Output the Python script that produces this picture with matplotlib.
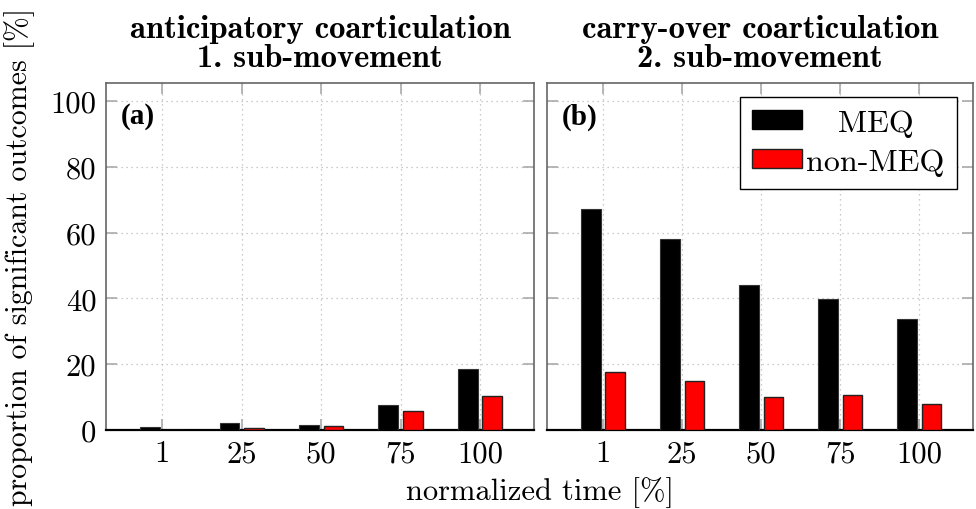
import numpy as np
import matplotlib.pyplot as plt
from matplotlib.patches import Patch

# values
time_labels = ['1', '25', '50', '75', '100']
meq_antic = [0.8, 2.0, 1.6, 7.5, 18.4]
nonmeq_antic = [0.0, 0.7, 1.2, 5.8, 10.4]
meq_carry = [67.3, 58.1, 44.2, 39.7, 33.8]
nonmeq_carry = [17.5, 14.9, 9.9, 10.7, 7.8]

plt.rcParams['font.family'] = 'cmr10'
plt.rcParams['mathtext.fontset'] = 'cm'
plt.rcParams['axes.unicode_minus'] = False

fig = plt.figure(figsize=(9.76, 5.10), dpi=100)
ax1 = fig.add_axes([106 / 976, 79 / 510, 428 / 976, 347 / 510])
ax2 = fig.add_axes([547 / 976, 79 / 510, 426 / 976, 347 / 510])

x = np.arange(len(time_labels))
w = 0.25
fs = 22

panels = [
    (ax1, meq_antic, nonmeq_antic, 'anticipatory coarticulation\n1. sub-movement', '(a)'),
    (ax2, meq_carry, nonmeq_carry, 'carry-over coarticulation\n2. sub-movement', '(b)'),
]

for ax, meq, nonmeq, title, tag in panels:
    ax.bar(x - 0.155, meq, w, color='black', edgecolor='#333333', linewidth=0.8, zorder=3)
    ax.bar(x + 0.155, nonmeq, w, color='#ff0000', edgecolor='#222222', linewidth=1.0, zorder=3)
    ax.set_xlim(-0.71, 4.68)
    ax.set_ylim(0, 105.5)
    ax.set_xticks(x)
    ax.set_xticklabels(time_labels, fontsize=fs)
    ax.set_yticks([0, 20, 40, 60, 80, 100])
    ax.grid(True, linestyle=(0, (1, 3)), color='#bbbbbb', linewidth=0.9, zorder=0)
    ax.tick_params(axis='both', direction='in', length=8, color='#aaaaaa', width=1.2,
                   top=True, right=True, labelsize=fs, pad=7)
    for s in ['left', 'right', 'top']:
        ax.spines[s].set_color('#666666')
        ax.spines[s].set_linewidth(1.2)
    ax.spines['bottom'].set_color('black')
    ax.spines['bottom'].set_linewidth(1.6)
    ax.set_title(title, fontsize=23.5, family='cmb10', pad=12, linespacing=1.0)
    ax.text(0.035, 0.905, tag, transform=ax.transAxes, fontsize=21, fontweight='bold',
            family='Liberation Serif', va='center', ha='left')

ax1.tick_params(axis='y', labelleft=True)
ax2.tick_params(axis='y', labelleft=False)

handles = [Patch(facecolor='black', edgecolor='black', label='   MEQ'),
           Patch(facecolor='#ff0000', edgecolor='#222222', label='non-MEQ')]
leg = ax2.legend(handles=handles, loc='upper right', bbox_to_anchor=(0.962, 0.96),
                 fontsize=23, frameon=True, fancybox=False, framealpha=1,
                 edgecolor='black', handlelength=1.55, handleheight=0.55,
                 handletextpad=0.12, borderpad=0.4, labelspacing=0.35,
                 borderaxespad=0)
leg.get_frame().set_linewidth(1.0)

fig.text(20 / 976, 1 - 257 / 510, 'proportion of significant outcomes [%]',
         rotation=90, ha='center', va='center', fontsize=21.5)
fig.text(540 / 976, 1 - 493 / 510, 'normalized time [%]', ha='center', va='center', fontsize=fs)

fig.savefig('out.png', dpi=100)
